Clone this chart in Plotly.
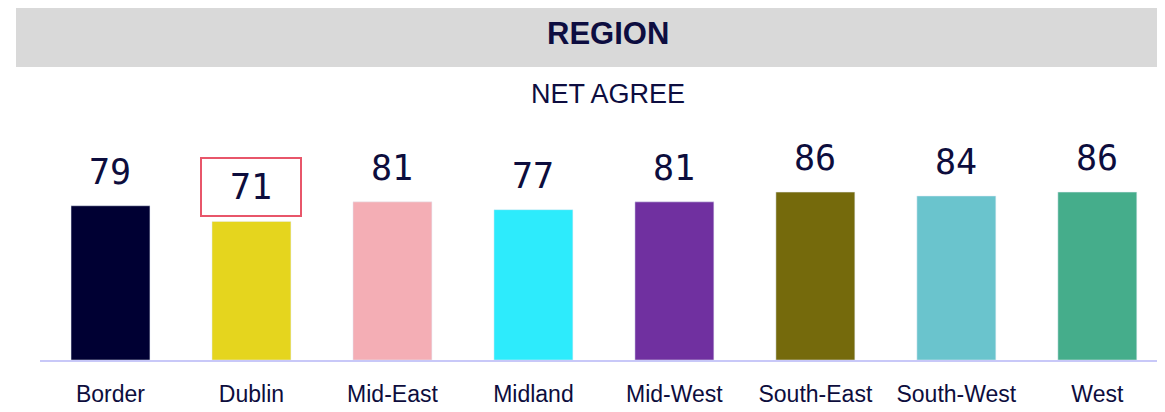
import plotly.graph_objects as go

regions = ["Border", "Dublin", "Mid-East", "Midland", "Mid-West", "South-East", "South-West", "West"]
net_agree = [79, 71, 81, 77, 81, 86, 84, 86]
bar_colors = ["#000033", "#E5D51E", "#F4AEB5", "#2DEBFC", "#7030A0", "#756A0C", "#6AC4CD", "#45AD8B"]
highlight = "Dublin"

# page body has an 8px margin; work in figure-internal pixels
OFF = 8
W, H = 1165 - OFF, 412 - OFF
ML, MR, MT, MB = 32, 0, 122, 52
PW, PH = W - ML - MR, H - MT - MB

def px_x(p):
    return (p - OFF - ML) / PW

def px_y(p):
    return (H - MB - (p - OFF)) / PH

fig = go.Figure(go.Bar(
    x=regions, y=net_agree, marker_color=bar_colors, width=0.56,
    hoverinfo="x+y",
))

annotations = []
for r, v in zip(regions, net_agree):
    a = dict(x=r, y=v, xref="x", yref="y", text=str(v), showarrow=False,
             yanchor="middle", yshift=34,
             font=dict(family="DejaVu Sans Mono", size=35, color="#0D0D3D"))
    if r == highlight:
        a.update(bordercolor="#E8566A", borderwidth=2, borderpad=1, width=96, height=54)
    annotations.append(a)

annotations.append(dict(x=px_x(608), y=px_y(33), xref="paper", yref="paper", text="<b>REGION</b>",
                        showarrow=False, xanchor="center", yanchor="middle",
                        font=dict(family="Liberation Sans, Arial", size=31, color="#0D0D40")))
annotations.append(dict(x=px_x(608), y=px_y(94), xref="paper", yref="paper", text="NET AGREE",
                        showarrow=False, xanchor="center", yanchor="middle",
                        font=dict(family="Liberation Sans, Arial", size=27, color="#0D0D40")))

fig.update_layout(
    width=W, height=H,
    margin=dict(l=ML, r=MR, t=MT, b=MB),
    paper_bgcolor="white", plot_bgcolor="white",
    showlegend=False,
    annotations=annotations,
    shapes=[dict(type="rect", xref="paper", yref="paper",
                 x0=px_x(16), x1=px_x(1165), y0=px_y(67), y1=px_y(5),
                 fillcolor="#D9D9D9", line_width=0, layer="below")],
    xaxis=dict(range=[-0.5, 7.48], showline=True, linecolor="#C8C8F8", linewidth=2,
               showgrid=False, zeroline=False, ticks="", ticklabelstandoff=12,
               tickfont=dict(family="Liberation Sans, Arial", size=23, color="#0D0D3D")),
    yaxis=dict(range=[0, 117.8], visible=False, showgrid=False, zeroline=False),
)

fig.write_html("out.html")
